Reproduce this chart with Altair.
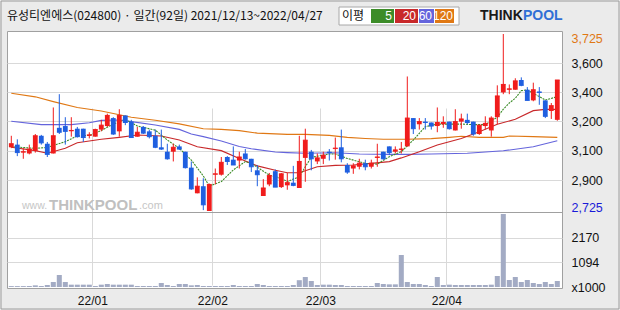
import altair as alt
import pandas as pd

# ---------------- data ----------------
opens = [3085, 3100, 3055, 3050, 3065, 3150, 3105, 3050, 3195, 3205,
         3175, 3190, 3190, 3150, 3145, 3185, 3205, 3250, 3175, 3265,
         3230, 3145, 3200, 3175, 3150, 3085, 3060, 3060, 3090, 3060,
         2970, 2825, 2865, 2725, 2930, 2930, 3030, 3015, 3010, 3050,
         3020, 2955, 2810, 2875, 2950, 2860, 2870, 2885, 2855, 3025,
         3060, 3005, 3020, 3060, 3075, 3085, 2985, 2965, 2975, 2995,
         2975, 3025, 3060, 3090, 3060, 3070, 3090, 3250, 3215, 3230,
         3225, 3205, 3215, 3230, 3180, 3230, 3240, 3230, 3160, 3205,
         3180, 3255, 3395, 3410, 3410, 3465, 3410, 3350, 3400, 3350,
         3290, 3240]
highs = [3150, 3130, 3080, 3100, 3160, 3155, 3115, 3310, 3385, 3255,
         3255, 3200, 3190, 3170, 3190, 3240, 3275, 3255, 3300, 3265,
         3240, 3200, 3205, 3185, 3185, 3185, 3105, 3105, 3100, 3060,
         3005, 2915, 2910, 2880, 2965, 3030, 3035, 3090, 3060, 3075,
         3020, 2985, 2905, 2940, 2960, 2940, 2940, 2980, 3150, 3190,
         3070, 3050, 3060, 3075, 3140, 3185, 2995, 2995, 3020, 3015,
         3015, 3105, 3060, 3090, 3090, 3115, 3485, 3250, 3250, 3250,
         3225, 3310, 3260, 3230, 3300, 3275, 3275, 3230, 3210, 3260,
         3260, 3435, 3725, 3440, 3475, 3480, 3425, 3450, 3425, 3350,
         3335, 3465]
lows = [3080, 3035, 3020, 3045, 3055, 3100, 3030, 3050, 3160, 3100,
        3145, 3140, 3115, 3135, 3145, 3175, 3200, 3155, 3145, 3210,
        3140, 3145, 3160, 3135, 3080, 3070, 3015, 3005, 3070, 2965,
        2845, 2825, 2730, 2725, 2875, 2925, 2985, 2985, 2965, 3015,
        2945, 2865, 2810, 2865, 2860, 2855, 2845, 2865, 2855, 2890,
        2955, 2990, 2990, 3010, 3015, 3000, 2935, 2935, 2960, 2955,
        2965, 2975, 3015, 3040, 3050, 3050, 3090, 3160, 3185, 3185,
        3185, 3170, 3195, 3185, 3180, 3190, 3215, 3150, 3155, 3185,
        3145, 3215, 3385, 3385, 3410, 3430, 3350, 3345, 3325, 3250,
        3245, 3235]
closes = [3105, 3055, 3060, 3075, 3150, 3110, 3045, 3150, 3170, 3175,
          3180, 3145, 3140, 3155, 3185, 3210, 3265, 3160, 3265, 3225,
          3140, 3170, 3165, 3145, 3085, 3075, 3020, 3085, 3075, 2970,
          2850, 2865, 2760, 2875, 2935, 3000, 3005, 2985, 3030, 3020,
          2975, 2930, 2855, 2925, 2860, 2935, 2885, 2870, 3005, 3125,
          3020, 3025, 3040, 3055, 3080, 3020, 2945, 2980, 2995, 2975,
          2995, 3030, 3020, 3055, 3070, 3075, 3250, 3190, 3230, 3225,
          3205, 3225, 3225, 3190, 3230, 3245, 3225, 3160, 3210, 3220,
          3250, 3375, 3440, 3415, 3460, 3435, 3350, 3410, 3395, 3260,
          3320, 3465]
volumes = [40, 40, 40, 40, 73, 44, 88, 220, 529, 220,
           103, 103, 103, 103, 44, 103, 132, 103, 103, 103,
           103, 44, 44, 44, 44, 176, 88, 44, 132, 132,
           73, 88, 44, 44, 44, 44, 44, 88, 44, 44,
           44, 132, 88, 44, 44, 44, 44, 88, 300, 440,
           264, 88, 103, 103, 88, 88, 44, 44, 44, 44,
           44, 176, 132, 117, 117, 1410, 220, 132, 132, 88,
           44, 440, 88, 103, 88, 88, 88, 88, 88, 88,
           103, 485, 3216, 308, 440, 220, 308, 176, 132, 220,
           132, 264]

ma5_idx = [0, 1, 4, 6, 9, 11, 13, 15, 17, 19, 21, 24, 26, 28, 30, 32, 33, 35, 37, 39,
           40, 41, 43, 45, 46, 48, 49, 50, 53, 54, 56, 59, 61, 63, 65, 67, 69, 71, 75, 77,
           79, 81, 82, 83, 84, 85, 86, 88, 89, 91]
ma5_val = [3090, 3086, 3079, 3084, 3117, 3149, 3152, 3180, 3216, 3243,
           3205, 3182, 3126, 3079, 3013, 2923, 2866, 2891, 2957, 3004,
           2994, 2972, 2928, 2909, 2891, 2919, 2975, 3028, 3047, 3047,
           3022, 2994, 2990, 3032, 3060, 3126, 3201, 3216, 3216, 3213,
           3213, 3255, 3300, 3335, 3362, 3405, 3409, 3371, 3352, 3371]
ma20_idx = [0, 4, 6, 9, 11, 15, 18, 21, 25, 28, 31, 35, 38, 41, 44, 46, 48, 51, 54, 57,
            60, 63, 65, 68, 71, 75, 78, 81, 84, 87, 89, 91]
ma20_val = [3085, 3066, 3051, 3079, 3111, 3130, 3141, 3154, 3149, 3126,
            3088, 3066, 3022, 2980, 2955, 2941, 2941, 2975, 2983, 2985,
            2994, 3004, 3025, 3060, 3098, 3135, 3173, 3215, 3243, 3292,
            3299, 3299]
ma60_idx = [0, 5, 10, 13, 15, 18, 20, 24, 28, 30, 32, 35, 38, 40, 44, 46, 49, 54, 58, 63,
            66, 70, 76, 79, 82, 87, 91]
ma60_val = [3232, 3213, 3213, 3224, 3237, 3239, 3230, 3211, 3186, 3160,
            3145, 3120, 3089, 3077, 3058, 3055, 3051, 3054, 3047, 3045,
            3045, 3047, 3051, 3058, 3065, 3088, 3122]
ma120_idx = [0, 4, 7, 11, 15, 20, 24, 28, 32, 35, 38, 41, 46, 49, 53, 56, 59, 62, 66, 70,
             73, 75, 78, 82, 83, 87, 91]
ma120_val = [3390, 3370, 3343, 3310, 3290, 3255, 3238, 3217, 3190, 3186,
             3179, 3165, 3158, 3158, 3152, 3141, 3135, 3130, 3130, 3134,
             3141, 3147, 3141, 3141, 3149, 3145, 3141]

month_labels = ["22/01", "22/02", "22/03", "22/04"]
month_first_index = [14, 34, 52, 73]

price_min, price_max = 2725, 3725
price_grid_values = [2898, 3066, 3233, 3396, 3560]
price_grid_labels = ["2,900", "3,100", "3,200", "3,400", "3,600"]
vol_max = 3282
vol_ticks = [1094, 2170]

title_text = "유성티엔에스(024800) · 일간(92일) 2021/12/13~2022/04/27"
legend_title = "이평"
legend_labels = ["5", "20", "60", "120"]

# ---------------- styling ----------------
RED, BLUE = "#f01c1c", "#1f5fe0"
C5, C20, C60, C120 = "#3c8c28", "#c8282a", "#6464dc", "#e07814"
GRID = "#d9d9d9"
FRAME = "#a0a0a0"
VOLC = "#a3abc4"
KFONT = "Noto Sans CJK KR"
NFONT = "Liberation Sans"

W, H = 555, 257
N = len(opens)

df = pd.DataFrame({"i": list(range(N)), "open": opens, "high": highs,
                   "low": lows, "close": closes, "vol": volumes})
df["blo"] = df[["open", "close"]].min(axis=1)
df["bhi"] = df[["open", "close"]].max(axis=1)
df["x0"] = df["i"] - 0.4
df["x1"] = df["i"] + 0.4
df["v0"] = df["i"] - 0.42
df["v1"] = df["i"] + 0.42

xscale = alt.Scale(domain=[-0.7167, 91.7833], nice=False, zero=False)
pscale = alt.Scale(domain=[price_min, price_max], range=[180, 3], nice=False, zero=False)
vscale = alt.Scale(domain=[0, vol_max], range=[256, 181.5], nice=False, zero=False)


def ternary(values, labels, default):
    expr = default
    for v, lab in reversed(list(zip(values, labels))):
        expr = f"abs(datum.value - {v}) < 0.01 ? '{lab}' : ({expr})"
    return expr


grid_pos = [m - 0.5 for m in month_first_index]
x_axis = alt.Axis(values=grid_pos, labelExpr=ternary(grid_pos, month_labels, "''"),
                  grid=True, gridColor=GRID, domain=False, ticks=False,
                  labelPadding=7, labelFontSize=12, labelFont=NFONT, labelColor="#111",
                  labelOverlap=False, title=None)

pvals = [price_min] + price_grid_values + [price_max]
plabs = ["2,725"] + price_grid_labels + ["3,725"]
p_axis = alt.Axis(orient="right", values=pvals, labelExpr=ternary(pvals, plabs, "''"),
                  grid=True, gridColor=GRID,
                  gridOpacity={"condition": {"test": f"datum.value == {price_min} || datum.value == {price_max}", "value": 0}, "value": 1},
                  labelColor={"condition": [{"test": f"datum.value == {price_max}", "value": C120},
                                            {"test": f"datum.value == {price_min}", "value": "#1a1ad8"}],
                              "value": "#111"},
                  labelOffset={"condition": [{"test": f"datum.value == {price_max}", "value": 4},
                                             {"test": f"datum.value == {price_min}", "value": -4}],
                               "value": 0},
                  domain=False, ticks=False, labelPadding=9, labelFontSize=12.5, labelFont=NFONT,
                  labelOverlap=False, labelBound=False, title=None)

v_axis = alt.Axis(orient="right", values=[0] + vol_ticks, format="d",
                  labelExpr="datum.value == 0 ? 'x1000' : datum.label",
                  grid=True, gridColor=GRID,
                  gridOpacity={"condition": {"test": "datum.value == 0", "value": 0}, "value": 1},
                  domain=False, ticks=False, labelPadding=9, labelFontSize=12.5, labelFont=NFONT,
                  labelColor="#111", labelOverlap=False, title=None)


def X(field):
    return alt.X(field, type="quantitative", scale=xscale, axis=x_axis)


def PY(field):
    return alt.Y(field, type="quantitative", scale=pscale, axis=p_axis)


candle_color = alt.condition("datum.close >= datum.open", alt.value(RED), alt.value(BLUE))


def ma_layer(idx, val, color, dash=None):
    kw = {"color": color, "strokeWidth": 1.1}
    if dash:
        kw["strokeDash"] = dash
    return alt.Chart(pd.DataFrame({"i": idx, "v": val})).mark_line(**kw).encode(
        x=X("i"), y=PY("v"))


one = pd.DataFrame({"k": [0]})


def txt(text, x, y, **kw):
    return alt.Chart(one).mark_text(text=text, x=x, y=y, **kw)


def box(x, x2, y, y2, **kw):
    return alt.Chart(one).mark_rect(x=x, x2=x2, y=y, y2=y2, **kw)


# watermark inside the price panel
watermark = alt.layer(
    txt("www.", 15, 178, align="left", baseline="alphabetic", font=NFONT, fontSize=10.5, color="#c6c6c6"),
    txt("THINKPOOL", 42, 179, align="left", baseline="alphabetic", font=NFONT, fontSize=15,
        fontWeight="bold", color="#c0c0c0"),
    txt(".com", 132, 178, align="left", baseline="alphabetic", font=NFONT, fontSize=11, color="#c6c6c6"),
)

wicks = alt.Chart(df).mark_rule(strokeWidth=1).encode(
    x=X("i"), y=PY("low"), y2="high:Q", color=candle_color)
bodies = alt.Chart(df).mark_rect().encode(
    x=X("x0"), x2="x1:Q", y=PY("blo"), y2="bhi:Q", color=candle_color)
flat = alt.Chart(df).mark_rule(strokeWidth=1).encode(
    x=X("x0"), x2="x1:Q", y=PY("close"), color=candle_color)

price = alt.layer(
    watermark,
    ma_layer(ma120_idx, ma120_val, C120),
    ma_layer(ma60_idx, ma60_val, C60),
    ma_layer(ma20_idx, ma20_val, C20),
    ma_layer(ma5_idx, ma5_val, C5, [2, 1]),
    wicks, bodies, flat,
)

vbars = alt.Chart(df).mark_rect(color=VOLC).encode(
    x=X("v0"), x2="v1:Q",
    y=alt.Y("vol:Q", scale=vscale, axis=v_axis), y2=alt.datum(0))
sep = alt.Chart(one).mark_rule(color=FRAME, strokeWidth=1).encode(
    y=alt.YDatum(vol_max, type="quantitative", scale=vscale, axis=v_axis))
volume = alt.layer(vbars, sep)

# header (title, MA legend, logo) and outer frame
lx = [364, 388, 412, 428, 448]  # legend box edges
header = alt.layer(
    box(-6, 612, -30, 278, fill=None, stroke="#9c9c9c", strokeWidth=1),
    txt(title_text, 0, -15, align="left", baseline="middle", font=KFONT, fontSize=12, color="#111"),
    box(332, 452, -24, -6, fill="white", stroke="#a8a8a8", strokeWidth=1),
    txt(legend_title, 346, -15, align="center", baseline="middle", font=KFONT, fontSize=12, color="#111"),
    box(lx[0], lx[1] - 1, -22, -8, fill=C5),
    box(lx[1], lx[2] - 1, -22, -8, fill=C20),
    box(lx[2], lx[3] - 1, -22, -8, fill=C60),
    box(lx[3], lx[4] - 1, -22, -8, fill=C120),
    txt(legend_labels[0], lx[1] - 3, -15, align="right", baseline="middle", font=NFONT, fontSize=12, color="white"),
    txt(legend_labels[1], lx[2] - 3, -15, align="right", baseline="middle", font=NFONT, fontSize=12, color="white"),
    txt(legend_labels[2], lx[3] - 3, -15, align="right", baseline="middle", font=NFONT, fontSize=12, color="white"),
    txt(legend_labels[3], lx[4] - 2, -15, align="right", baseline="middle", font=NFONT, fontSize=12, color="white"),
    txt("THINK", 473, -15, align="left", baseline="middle", font=NFONT, fontSize=14,
        fontWeight="bold", color="#1a1a1a"),
    txt("POOL", 516, -15, align="left", baseline="middle", font=NFONT, fontSize=14,
        fontWeight="bold", color="#2f6fd6"),
)

chart = alt.layer(price, volume, header).resolve_scale(y="independent").properties(
    width=W, height=H,
    autosize=alt.AutoSizeParams(type="none"),
    padding={"left": 7, "top": 31, "right": 58, "bottom": 22},
    background="#ebebeb",
).configure_view(fill="white", stroke=FRAME, strokeWidth=1)

chart.save("out.html", embed_options={"renderer": "svg", "actions": False})
